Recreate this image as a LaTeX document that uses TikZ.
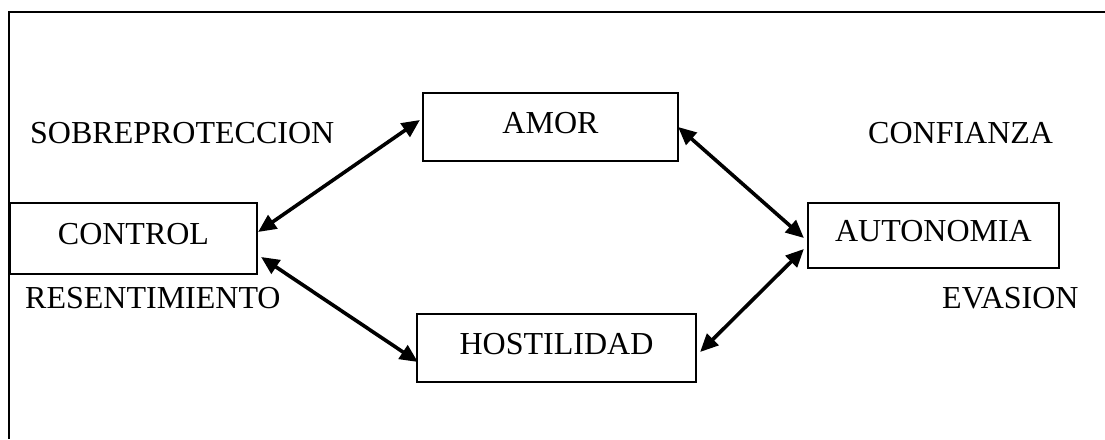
\documentclass[tikz,border=0pt]{standalone}
\usepackage{fontspec}
\setmainfont{Liberation Serif}
\usetikzlibrary{arrows.meta}
\begin{document}
\begin{tikzpicture}[x=1pt,y=1pt,
  box/.style={draw,line width=2.2pt,inner sep=0pt,text height=21pt,text depth=8pt,font=\fontsize{32}{38}\selectfont},
  lbl/.style={inner sep=0pt,text height=21pt,text depth=0pt,font=\fontsize{32}{38}\selectfont},
  arr/.style={line width=3.6pt,{Triangle[length=18pt,width=16pt]}-{Triangle[length=18pt,width=16pt]}},
  frame/.style={line width=2.2pt}]
\useasboundingbox (0,0) rectangle (1105,439);
\coordinate (ftop) at (1105,427);
\coordinate (fcorner) at (9,427);
\coordinate (fbot) at (9,0);
\draw[frame] (ftop) -- (fcorner) -- (fbot);
\node[box,minimum width=247pt,minimum height=71pt] (control) at (133.5,200.5) {CONTROL};
\node[box,minimum width=255pt,minimum height=68pt] (amor) at (550.5,312) {AMOR};
\node[box,minimum width=279pt,minimum height=68pt] (host) at (556.5,91) {HOSTILIDAD};
\node[box,minimum width=251pt,minimum height=65pt] (auto) at (933.5,203.5) {AUTONOMIA};
\node[lbl,anchor=west] (sobre) at (30,306) {SOBREPROTECCION};
\node[lbl,anchor=west] (conf) at (868,306) {CONFIANZA};
\node[lbl,anchor=west] (resen) at (25,141) {RESENTIMIENTO};
\node[lbl,anchor=west] (evas) at (942,141) {EVASION};
\draw[arr] ([yshift=6.5pt]control.east) -- ([xshift=-2pt,yshift=7pt]amor.west);
\draw[arr] ([xshift=3pt,yshift=-18.5pt]control.east) -- ([xshift=2pt,yshift=-14pt]host.west);
\draw[arr] ([xshift=-1pt]amor.east) -- ([xshift=-3pt,yshift=-2.5pt]auto.west);
\draw[arr] ([xshift=-3pt,yshift=-13.5pt]auto.west) -- ([xshift=3pt,yshift=-4pt]host.east);
\end{tikzpicture}
\end{document}
